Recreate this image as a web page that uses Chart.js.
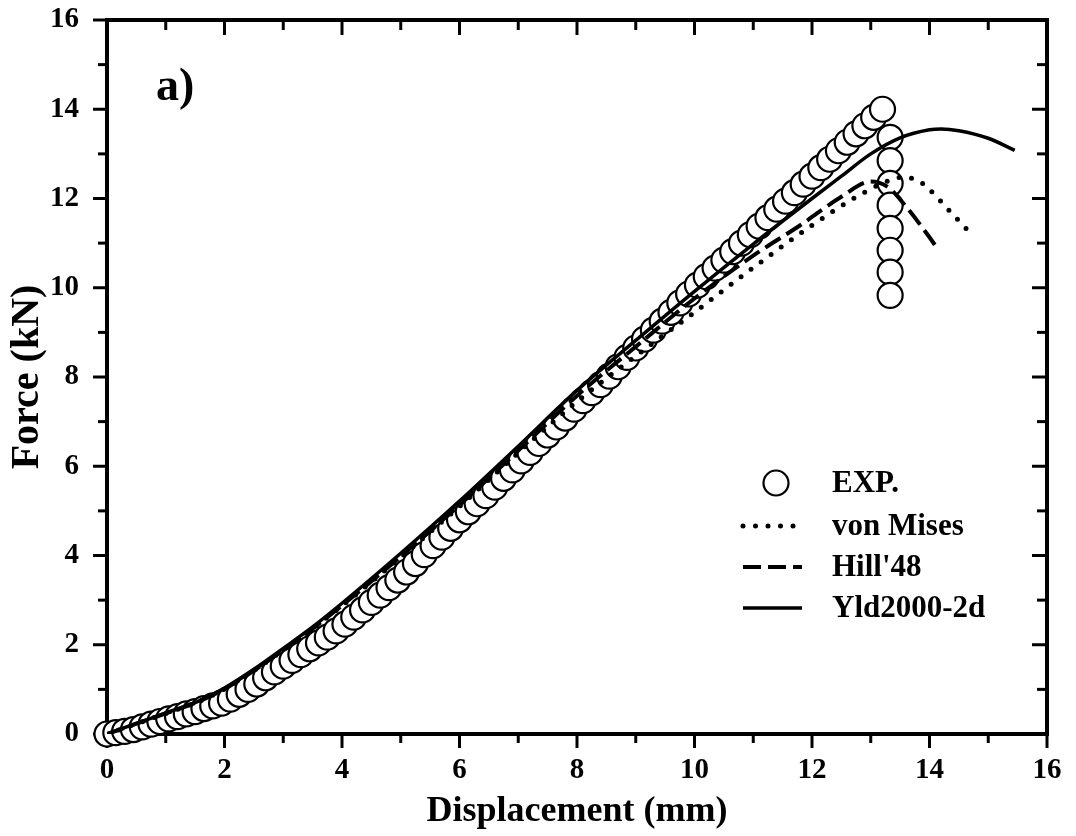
<!DOCTYPE html>
<html><head><meta charset="utf-8">
<script src="https://cdn.jsdelivr.net/npm/chart.js@4/dist/chart.umd.min.js"></script>
<style>html,body{margin:0;padding:0;background:#fff}</style>
</head><body>
<canvas id="c" width="1076" height="836"></canvas>
<script>
// ---------- data ----------
const expX = [0,0.15,0.3,0.45,0.6,0.75,0.9,1.05,1.2,1.35,1.5,1.65,1.8,1.95,2.1,2.25,2.4,2.55,2.7,2.85,3,3.15,3.3,3.45,3.6,3.75,3.9,4.05,4.2,4.35,4.5,4.65,4.8,4.95,5.1,5.25,5.4,5.55,5.7,5.85,6,6.15,6.3,6.45,6.6,6.75,6.9,7.05,7.2,7.35,7.5,7.65,7.8,7.95,8.1,8.25,8.4,8.55,8.7,8.85,9,9.15,9.3,9.45,9.6,9.75,9.9,10.05,10.2,10.35,10.5,10.65,10.8,10.95,11.1,11.25,11.4,11.55,11.7,11.85,12,12.15,12.3,12.45,12.6,12.75,12.9,13.05,13.2,13.33,13.33,13.33,13.33,13.33,13.33,13.33,13.33];
const expY = [0,0.03,0.06,0.10,0.16,0.22,0.28,0.34,0.39,0.45,0.50,0.57,0.63,0.69,0.78,0.89,1.00,1.12,1.26,1.39,1.52,1.65,1.78,1.91,2.04,2.17,2.31,2.46,2.62,2.78,2.95,3.11,3.28,3.45,3.63,3.82,4.02,4.22,4.41,4.61,4.80,4.98,5.16,5.34,5.53,5.73,5.92,6.12,6.31,6.51,6.70,6.88,7.08,7.28,7.47,7.65,7.83,8.02,8.23,8.44,8.65,8.85,9.05,9.25,9.45,9.66,9.86,10.06,10.25,10.44,10.62,10.81,11.00,11.19,11.38,11.57,11.76,11.94,12.13,12.32,12.50,12.69,12.88,13.07,13.26,13.45,13.63,13.82,14.00,13.37,12.85,12.34,11.85,11.33,10.84,10.35,9.83];

const vonMisesX = [0,0.5,1,1.6,2,2.5,3,3.5,4,5,6,7,8,9,10,11,12,12.8,13.2,13.5,13.75,14,14.3,14.75];
const vonMisesY = [0,0.23,0.46,0.75,1.01,1.42,1.88,2.36,2.87,3.96,5.1,6.3,7.45,8.47,9.45,10.45,11.4,12.07,12.34,12.47,12.44,12.2,11.78,11.15];

const hillX = [0,0.5,1,1.6,2,2.5,3,3.5,4,5,6,7,8,9,10,11,11.8,12.5,13,13.3,13.6,13.95,14.15];
const hillY = [0,0.23,0.46,0.75,1.01,1.42,1.88,2.36,2.88,3.98,5.13,6.35,7.58,8.68,9.76,10.72,11.4,12.04,12.38,12.25,11.82,11.22,10.85];

const yldX = [0,0.5,1,1.6,2,2.5,3,3.5,4,5,6,7,8,9,10,11,12,12.5,13,13.5,14,14.2,14.5,15,15.45];
const yldY = [0,0.24,0.47,0.76,1.03,1.45,1.92,2.4,2.93,4.05,5.22,6.45,7.7,8.82,9.92,10.98,12.0,12.5,13.0,13.36,13.54,13.56,13.52,13.35,13.08];

const seriesNames = ['EXP.', 'von Mises', "Hill'48", 'Yld2000-2d'];
const xTickValues = [0,2,4,6,8,10,12,14,16];
const yTickValues = [0,2,4,6,8,10,12,14,16];
const xMinorTicks = [1,3,5,7,9,11,13,15];
const yMinorTicks = [1,3,5,7,9,11,13,15];
const panelLabel = 'a)';
const xTitle = 'Displacement (mm)';
const yTitle = 'Force (kN)';

// ---------- helpers ----------
const pts = (xs, ys) => xs.map((x, i) => ({x, y: ys[i]}));
const SERIF = "'Liberation Serif', 'Times New Roman', serif";

const framePlugin = {
  id: 'frame',
  beforeDatasetsDraw(chart) {
    const {ctx, chartArea: a, scales: {x, y}} = chart;
    ctx.save();
    ctx.strokeStyle = '#000';
    ctx.lineWidth = 4;
    ctx.strokeRect(a.left, a.top, a.right - a.left, a.bottom - a.top);
    ctx.lineWidth = 3;
    const seg = (x1, y1, x2, y2) => { ctx.beginPath(); ctx.moveTo(x1, y1); ctx.lineTo(x2, y2); ctx.stroke(); };
    xTickValues.forEach(v => { const p = x.getPixelForValue(v); seg(p, a.bottom, p, a.bottom + 14); seg(p, a.top, p, a.top + 15); });
    xMinorTicks.forEach(v => { const p = x.getPixelForValue(v); seg(p, a.bottom, p, a.bottom + 9); seg(p, a.top, p, a.top + 10); });
    yTickValues.forEach(v => { const p = y.getPixelForValue(v); seg(a.left - 14, p, a.left, p); seg(a.right - 15, p, a.right, p); });
    yMinorTicks.forEach(v => { const p = y.getPixelForValue(v); seg(a.left - 9, p, a.left, p); seg(a.right - 10, p, a.right, p); });
    ctx.restore();
  },
  afterDraw(chart) {
    const {ctx} = chart;
    ctx.save();
    ctx.fillStyle = '#000';
    ctx.font = 'bold 46px ' + SERIF;
    ctx.textBaseline = 'alphabetic';
    ctx.textAlign = 'left';
    ctx.fillText(panelLabel, 156, 100);
    // legend
    const rows = [483, 526, 567, 608];
    const x0 = 743, x1 = 802, tx = 832;
    chart.data.datasets.forEach((ds, i) => {
      const yy = rows[i];
      ctx.save();
      ctx.strokeStyle = '#000';
      if (i === 0) {
        ctx.lineWidth = ds.borderWidth;
        ctx.fillStyle = '#fff';
        ctx.beginPath(); ctx.arc(776, yy, ds.pointRadius, 0, Math.PI * 2); ctx.fill(); ctx.stroke();
      } else {
        ctx.lineWidth = ds.borderWidth;
        ctx.lineCap = ds.borderCapStyle || 'butt';
        ctx.setLineDash(ds.borderDash || []);
        ctx.beginPath(); ctx.moveTo(x0, yy); ctx.lineTo(x1, yy); ctx.stroke();
      }
      ctx.restore();
      ctx.font = 'bold 31px ' + SERIF;
      ctx.textBaseline = 'middle';
      ctx.fillStyle = '#000';
      ctx.fillText(ds.label, tx, yy + 1);
    });
    ctx.restore();
  }
};

new Chart(document.getElementById('c'), {
  type: 'scatter',
  data: {
    datasets: [
      { label: seriesNames[0], data: pts(expX, expY), showLine: false, pointStyle: 'circle',
        pointRadius: 12.5, pointHoverRadius: 12.5, borderWidth: 2.2, borderColor: '#000', backgroundColor: '#fff',
        clip: false, order: 10 },
      { label: seriesNames[1], data: pts(vonMisesX, vonMisesY), showLine: true, pointRadius: 0,
        borderColor: '#000', borderWidth: 5, borderDash: [0, 12.5], borderCapStyle: 'round',
        cubicInterpolationMode: 'monotone', order: 3 },
      { label: seriesNames[2], data: pts(hillX, hillY), showLine: true, pointRadius: 0,
        borderColor: '#000', borderWidth: 4, borderDash: [18, 7], borderCapStyle: 'butt',
        cubicInterpolationMode: 'monotone', order: 2 },
      { label: seriesNames[3], data: pts(yldX, yldY), showLine: true, pointRadius: 0,
        borderColor: '#000', borderWidth: 3.5, borderCapStyle: 'butt',
        cubicInterpolationMode: 'monotone', order: 1 }
    ]
  },
  options: {
    responsive: false,
    animation: false,
    events: [],
    layout: { padding: { left: 0, right: 29, top: 20, bottom: 0 } },
    plugins: { legend: { display: false }, tooltip: { enabled: false } },
    scales: {
      x: {
        type: 'linear', min: 0, max: 16,
        afterBuildTicks: s => { s.ticks = xTickValues.map(v => ({value: v})); },
        afterFit: s => { s.height = 102; s.paddingLeft = 0; s.paddingRight = 0; },
        grid: { display: false, drawTicks: true, tickLength: 14 },
        border: { display: false },
        ticks: { color: '#000', padding: 8, font: { family: SERIF, size: 29, weight: 'bold', lineHeight: 1 } },
        title: { display: true, text: xTitle, color: '#000', padding: { top: 0, bottom: 6 },
                 font: { family: SERIF, size: 36, weight: 'bold', lineHeight: 1 } }
      },
      y: {
        type: 'linear', min: 0, max: 16,
        afterBuildTicks: s => { s.ticks = yTickValues.map(v => ({value: v})); },
        afterFit: s => { s.width = 107; s.paddingTop = 0; s.paddingBottom = 0; },
        grid: { display: false, drawTicks: true, tickLength: 14 },
        border: { display: false },
        ticks: { color: '#000', padding: 14, font: { family: SERIF, size: 29, weight: 'bold', lineHeight: 1 } },
        title: { display: true, text: yTitle, color: '#000', padding: { top: 8, bottom: 0 },
                 font: { family: SERIF, size: 40, weight: 'bold', lineHeight: 1 } }
      }
    }
  },
  plugins: [framePlugin]
});
</script>
</body></html>
